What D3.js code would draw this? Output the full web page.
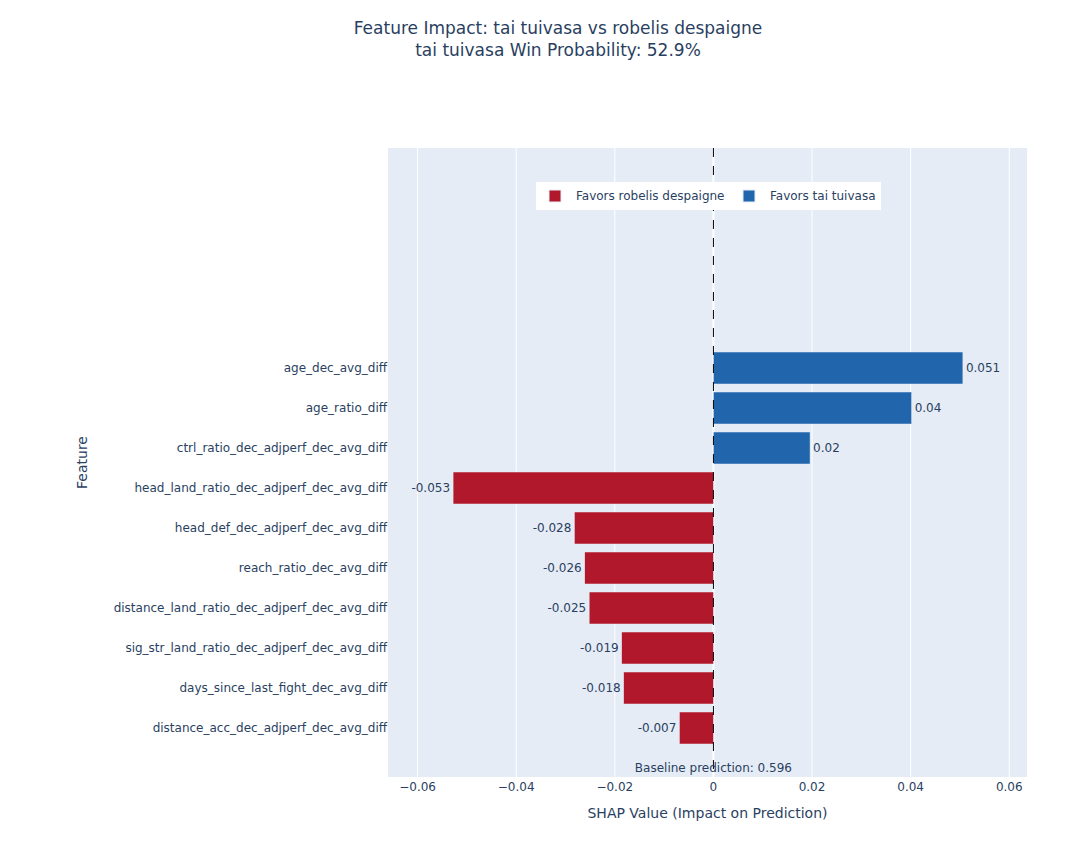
<meta charset="utf-8">
<script src="https://d3js.org/d3.v7.min.js"></script>
<style>
  body { margin: 0; background: #fff; }
  text { font-family: "DejaVu Sans", verdana, arial, sans-serif; fill: #2a3f5f; }
</style>
<div id="chart"></div>
<script>

// features, bottom to top
var features = [
  "distance_acc_dec_adjperf_dec_avg_diff",
  "days_since_last_fight_dec_avg_diff",
  "sig_str_land_ratio_dec_adjperf_dec_avg_diff",
  "distance_land_ratio_dec_adjperf_dec_avg_diff",
  "reach_ratio_dec_avg_diff",
  "head_def_dec_adjperf_dec_avg_diff",
  "head_land_ratio_dec_adjperf_dec_avg_diff",
  "ctrl_ratio_dec_adjperf_dec_avg_diff",
  "age_ratio_diff",
  "age_dec_avg_diff"
];
var shapValues = [-0.0069, -0.0182, -0.0186, -0.0252, -0.0261, -0.0282, -0.0528, 0.0196, 0.0402, 0.0506];
var xTicks = [-0.06, -0.04, -0.02, 0, 0.02, 0.04, 0.06];
var legendLabels = ["Favors robelis despaigne", "Favors tai tuivasa"];
var titleLines = ["Feature Impact: tai tuivasa vs robelis despaigne", "tai tuivasa Win Probability: 52.9%"];
var baselineText = "Baseline prediction: 0.596";

var colorNeg = "#b2182b", colorPos = "#2166ac";

var W = 1087, H = 860;
var margin = {top: 148, right: 60, bottom: 83, left: 388};
var width = W - margin.left - margin.right,
    height = H - margin.top - margin.bottom;

var svg = d3.select("#chart").append("svg")
    .attr("width", W).attr("height", H);

// titles
svg.selectAll(".title").data(titleLines).enter().append("text")
    .attr("x", 558).attr("y", function(d, i) { return 34 + i * 22; })
    .attr("text-anchor", "middle")
    .style("font-size", "17px")
    .text(function(d) { return d; });

var g = svg.append("g")
    .attr("transform", "translate(" + margin.left + "," + margin.top + ")");

g.append("rect").attr("width", width).attr("height", height).attr("fill", "#e5ecf6");

var x = d3.scaleLinear().domain([-0.066, 0.0636]).range([0, width]);
// category positions: index 0 at bottom, range extends above for legend room
var y = d3.scaleLinear().domain([-1.225, 14.5]).range([height, 0]);
var band = y(0) - y(0.8);

// grid
g.selectAll(".grid").data(xTicks).enter().append("line")
    .attr("x1", function(d) { return x(d); }).attr("x2", function(d) { return x(d); })
    .attr("y1", 0).attr("y2", height)
    .attr("stroke", "#fff").attr("stroke-width", function(d) { return d === 0 ? 2 : 1; });

// bars
g.selectAll(".bar").data(shapValues).enter().append("rect")
    .attr("x", function(d) { return x(Math.min(0, d)); })
    .attr("width", function(d) { return Math.abs(x(d) - x(0)); })
    .attr("y", function(d, i) { return y(i) - band / 2; })
    .attr("height", band)
    .attr("fill", function(d) { return d < 0 ? colorNeg : colorPos; })
    .attr("stroke", "#e5ecf6").attr("stroke-width", 0.5);

// value labels
g.selectAll(".val").data(shapValues).enter().append("text")
    .attr("x", function(d) { return d < 0 ? x(d) - 3 : x(d) + 3; })
    .attr("y", function(d, i) { return y(i) + 4; })
    .attr("text-anchor", function(d) { return d < 0 ? "end" : "start"; })
    .style("font-size", "12px")
    .text(function(d) { return String(+d.toFixed(3)); });

// dashed zero line
g.append("line")
    .attr("x1", x(0)).attr("x2", x(0)).attr("y1", 0).attr("y2", height)
    .attr("stroke", "#000").attr("stroke-width", 1)
    .attr("stroke-dasharray", "9,9");

// baseline annotation
g.append("text")
    .attr("x", x(0)).attr("y", height - 5)
    .attr("text-anchor", "middle")
    .style("font-size", "12px")
    .text(baselineText);

// y tick labels
g.selectAll(".ylab").data(features).enter().append("text")
    .attr("x", -1).attr("y", function(d, i) { return y(i) + 4; })
    .attr("text-anchor", "end")
    .style("font-size", "12px")
    .text(function(d) { return d; });

// x tick labels
g.selectAll(".xlab").data(xTicks).enter().append("text")
    .attr("x", function(d) { return x(d); }).attr("y", height + 14)
    .attr("text-anchor", "middle")
    .style("font-size", "12px")
    .text(function(d) { return d === 0 ? "0" : d3.format(".2f")(d).replace("-", "\u2212"); });

// axis titles
g.append("text")
    .attr("x", width / 2).attr("y", height + 41)
    .attr("text-anchor", "middle")
    .style("font-size", "14px")
    .text("SHAP Value (Impact on Prediction)");

g.append("text")
    .attr("transform", "rotate(-90)")
    .attr("x", -height / 2).attr("y", -301)
    .attr("text-anchor", "middle")
    .style("font-size", "14px")
    .text("Feature");

// legend
var legend = svg.append("g").attr("transform", "translate(536,182)");
legend.append("rect").attr("width", 345).attr("height", 28).attr("fill", "#fff");
var itemX = [13, 207];
var items = legend.selectAll(".item").data(legendLabels).enter().append("g")
    .attr("transform", function(d, i) { return "translate(" + itemX[i] + ",0)"; });
items.append("rect")
    .attr("x", 0).attr("y", 8).attr("width", 12).attr("height", 12)
    .attr("fill", function(d, i) { return i === 0 ? colorNeg : colorPos; })
    .attr("stroke", "#e5ecf6").attr("stroke-width", 1);
items.append("text")
    .attr("x", 27).attr("y", 18)
    .style("font-size", "12px")
    .text(function(d) { return d; });

</script>
